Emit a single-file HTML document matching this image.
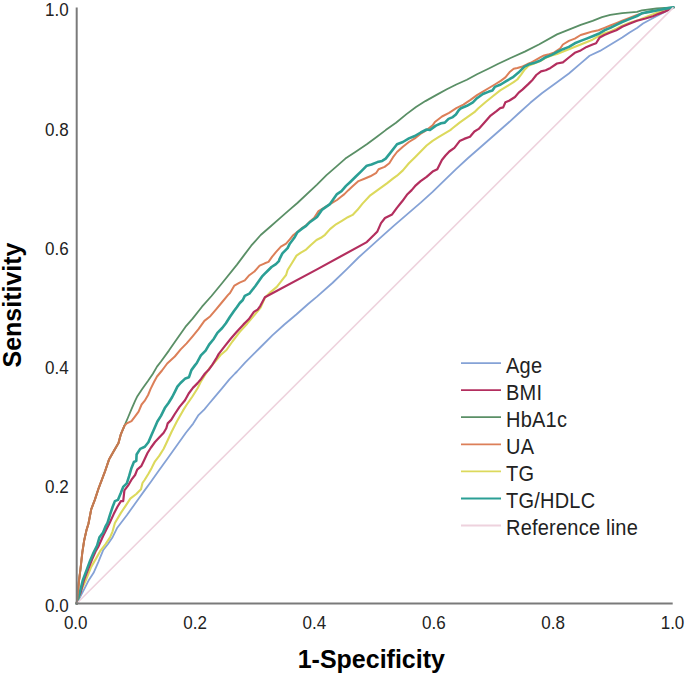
<!DOCTYPE html>
<html><head><meta charset="utf-8"><style>
html,body{margin:0;padding:0;background:#fff;}
body{width:685px;height:675px;overflow:hidden;font-family:"Liberation Sans",sans-serif;}
svg{display:block;}
</style></head><body>
<svg width="685" height="675" viewBox="0 0 685 675">
<rect width="685" height="675" fill="#fff"/>
<g>
<path d="M76.7,603.5 L84.1,589.4 L88.9,579.9 L93.6,572.8 L98.3,562.1 L103.1,550.3 L107.8,544.3 L112.6,537.2 L117.3,527.7 L120.9,523 L126.8,515.3 L132.7,507 L138.6,498.7 L144.6,490.4 L150.4,482.5 L158,471.8 L168.1,457.7 L177,445.2 L185.9,432.8 L193.2,423.6 L198.5,415.1 L204.4,409.3 L208,405 L214.6,397.2 L222,388.3 L229.4,379.4 L235,373.5 L237,371.5 L245.3,362.4 L254.8,352.9 L260.7,347 L272.6,335.1 L284.4,324.5 L296.3,314.5 L308.1,304 L317,296.6 L332.4,283 L346.6,269.4 L358.5,257.5 L370.3,246.9 L382.2,236.2 L394,225.7 L420.7,202.6 L432.6,191.8 L444.4,180.3 L456.3,168.8 L468.1,158 L477,150.3 L507.8,123.3 L518.5,113.5 L530.3,102.8 L542.2,93 L557,82.3 L568.9,73.5 L580.7,63.4 L589.6,55.8 L600,50.9 L607.4,46.5 L614.8,42 L622.2,37.6 L629.6,32.4 L637,28 L643,23.5 L655,17 L673.5,7.4" fill="none" stroke="#85a2d6" stroke-width="1.8" stroke-linejoin="round" stroke-linecap="round"/>
<path d="M76.7,603.5 L81.7,589.4 L86.5,578.7 L91.2,566.9 L96,558.6 L100.7,550.3 L105.4,544.3 L110.2,537.2 L112.6,531.3 L114.9,523 L120.9,512.9 L125.6,505.8 L130.3,498.7 L136.3,494 L141,489.2 L142.5,483 L144.6,480 L148.3,474 L151.7,467.9 L155,461.3 L159.2,455.9 L163.7,448.8 L167,441.8 L171.5,432 L177.1,421.1 L183.1,410.4 L186.5,405 L192.4,396.5 L197.6,388.3 L201.3,380.9 L205,375 L209.4,368.3 L214.6,362.4 L220.6,355 L226.5,350 L232.4,341.5 L239.8,331.9 L247.2,323.7 L254.6,314.8 L260.6,307.5 L264.9,297.8 L270.6,292.1 L276.8,286.9 L280.9,281.7 L284,277.6 L286.1,275 L287.6,270 L292,263 L296.5,255.6 L300.9,252.6 L306.1,249.6 L310.6,245.2 L316.5,240 L320.9,237.8 L325,234.8 L330,229.1 L336,224.3 L341.9,220.8 L347.8,217.2 L352.6,214.9 L357.3,210.1 L362.5,203.6 L370.3,195.3 L378.6,189.4 L386.9,183.4 L392.9,178.7 L397,175.7 L402.9,170.4 L408.9,163.3 L414.8,157.4 L420.7,151.4 L426.6,145.5 L432.6,140.8 L438.5,137.2 L444.4,133.7 L450.3,130.1 L452.2,128.5 L459.6,122.6 L467,117.4 L474.4,112.2 L478.1,108.5 L485.4,102.2 L492.8,96.3 L500.2,90.4 L507.6,85.9 L513.6,82.2 L517.3,79.5 L521.1,74.6 L524.8,69.4 L528.5,65.7 L532.2,64.3 L539.8,61.3 L545.7,57.8 L551.7,55.5 L557,54 L568.9,49.2 L580.7,44.5 L592.6,39.7 L598.5,36.2 L604.4,33.3 L610.3,31.5 L616.3,28.7 L622.2,25.7 L629.6,22.8 L637,20.6 L644.4,17.6 L655,13.5 L673.5,7.4" fill="none" stroke="#dcd95c" stroke-width="2.1" stroke-linejoin="round" stroke-linecap="round"/>
<path d="M76.7,603.5 L78.5,597 L80.5,593 L84,580 L88,569.5 L92,559.5 L95.5,551.5 L98.3,546.7 L103.1,536 L109.6,523 L113.7,514.1 L117.3,507 L120.9,501.1 L123.2,501.1 L124.4,490.4 L128,485.7 L131.5,479.7 L135.1,475 L137.2,469.6 L141.2,466.2 L144,460.5 L147.5,453 L151,447.5 L155,442 L159.2,437.5 L163.7,432.8 L166.3,428.3 L167.7,423.4 L171.2,419.9 L174.8,414 L179.5,406.9 L185,400.2 L188.7,393.5 L193.1,387.6 L197.6,383.1 L201.3,378.7 L205,373.5 L208.7,369.8 L212.4,364.6 L216.1,358.7 L218.6,354.1 L225,345.9 L230.9,338.5 L236.1,332.6 L243.5,324.4 L248.7,319.3 L253.9,311.9 L257.6,309.6 L260.2,306.1 L264.9,297.3 L317,269.4 L366.8,242.1 L369.1,239.7 L373.9,235 L377.4,231.4 L381,223.1 L385,218 L392.1,214.4 L396.9,207.9 L402.2,201.3 L406.9,194.8 L411.7,190.1 L415.8,185.3 L420.6,181.2 L426.6,176.8 L432.6,171.6 L437.3,169.2 L441.9,160 L445.5,155.5 L449.3,151.5 L454.4,147.8 L459.6,141.1 L464.1,138.9 L470,136.7 L474.4,131.5 L478.7,128.9 L484.7,122.2 L490.6,115.6 L496.5,111.1 L500.2,108.1 L503.2,107.4 L505.4,102.2 L509.1,100.7 L515,97 L518.7,92.6 L522.4,89.6 L528,84.4 L532.7,79.7 L536.3,75 L541,71.4 L545.7,70.3 L550.5,67.9 L557,63.5 L562.9,62.3 L568.9,57.5 L574.8,52.8 L580.7,50.4 L586.6,46.9 L592.6,44.5 L596.1,43.3 L599.7,37.4 L604.4,35 L610.3,32.6 L616.3,30.3 L622.2,26.7 L628.1,24.3 L637,20.8 L645.5,18.5 L652.9,16.3 L658.1,14.1 L664,11.9 L673.5,7.4" fill="none" stroke="#b32e5e" stroke-width="2.2" stroke-linejoin="round" stroke-linecap="round"/>
<path d="M76.7,603.5 L77.3,598.9 L78.8,582.3 L80.6,568 L82.3,552.6 L84.1,540.8 L86.5,530.1 L88.5,523.5 L91.2,509.4 L94.8,499.9 L98.3,489.2 L101.9,479.7 L105.4,470.3 L109,459.6 L113.7,451.3 L118.5,443 L120.9,434.1 L124.4,425.8 L128,417.5 L131.5,409.2 L135.1,400.9 L137.4,396.2 L142.2,389.1 L148.1,380.8 L152.9,373.7 L157,366.6 L161,361.5 L168.9,350.6 L177.1,338.7 L185.4,326.9 L192.6,318.6 L202,306.7 L211.5,296 L222.2,283 L237,264.6 L244.1,255.1 L251.2,245.7 L260.7,235 L270.2,226.7 L279.7,218.4 L289.1,210.1 L297.4,203 L317,184.6 L326.5,175.1 L336,166.9 L345.4,158.6 L356.1,151.4 L366.8,144.3 L376.3,137.2 L385.7,130.1 L396,122.8 L406.5,114.1 L416,107 L425.4,101.1 L436.1,95.1 L446.8,89.2 L456.3,84.5 L466.9,79.7 L477,74.2 L488.9,68.5 L497.8,64 L510,58.2 L524.8,51.6 L538.9,44.5 L557,34.4 L568.9,29.7 L580.7,24.9 L592.6,20.8 L602,17.2 L610.3,14.9 L622.2,13.1 L637,11.9 L641.8,10.4 L656.6,8.5 L673.5,7.4" fill="none" stroke="#5a8f66" stroke-width="1.8" stroke-linejoin="round" stroke-linecap="round"/>
<path d="M76.7,603.5 L77.3,598.9 L78.8,582.3 L80.6,568 L82.3,552.6 L84.1,540.8 L86.5,530.1 L88.5,523.5 L91.2,509.4 L94.8,499.9 L98.3,489.2 L101.9,479.7 L105.4,470.3 L109,459.6 L113.7,451.3 L118.5,443 L120.9,434.1 L124.4,425.8 L126.8,423.4 L131.5,421.1 L135.1,416.3 L138.6,411.6 L141.6,404.5 L144.6,400.9 L148.1,395 L150.5,389.1 L154,382 L157,376.5 L162,370.5 L167.2,363.5 L174.8,356.5 L180.7,349.4 L186.6,343.4 L192.6,336.3 L198.5,329.2 L204.4,320.9 L210.3,316.2 L216.3,309.1 L222.2,302 L228.1,294.9 L230,293 L234.4,285.6 L239.6,282.6 L244.8,280.4 L249.3,275.2 L254.4,271.5 L259.6,265.6 L264.8,263.3 L268.5,261.9 L272.2,256.7 L275.9,252.2 L280.9,246.7 L286.1,243.7 L289.8,239.3 L292.8,235.6 L297.2,232 L301.7,228.3 L306.1,225.3 L309.8,221.6 L314,218 L318.5,211.1 L325.9,206.7 L333.3,202.2 L337,200 L340.7,197 L344.4,194.1 L348.1,190.4 L352.6,186.3 L358.5,181.1 L364.4,178.7 L370.3,176.3 L376.3,172.8 L378.6,169.2 L384.6,166.9 L389.3,163.3 L392.9,157.4 L397,152 L402.9,146.7 L408.9,142 L414.8,138.4 L420.7,133.7 L426.6,130.1 L432.6,125.4 L434.9,122 L442,116.5 L449.1,112.9 L456.3,108.2 L463.4,104.6 L470.5,99.9 L477,95.1 L482.9,91.6 L488.9,88 L494.8,84.5 L500.7,80.9 L505.4,77.4 L510,71.7 L513.7,68.7 L517.4,68 L522.6,66.5 L527,64.3 L530.7,62.8 L535.9,59.8 L541.1,56.9 L544.1,55.4 L548,54.6 L554.4,52.4 L560,48.7 L562.9,44.5 L568.9,40.9 L574.8,38.6 L580.7,35 L586.6,33.2 L592.6,31.4 L598.5,30.3 L604.4,27.9 L610.3,25.5 L616.3,23.1 L622.2,20.8 L628.1,18.4 L637,14.9 L650,11.5 L673.5,7.4" fill="none" stroke="#dc7f58" stroke-width="2.0" stroke-linejoin="round" stroke-linecap="round"/>
<path d="M76.7,603.5 L79.4,594.1 L82.9,579.9 L86.5,570.4 L90,560.9 L93.6,552.6 L97.1,545.5 L99.5,537.2 L103.1,532.5 L105.4,526.6 L107.5,523 L110.2,514.1 L112.6,507 L114.9,501.1 L117.9,499.9 L120.9,492.8 L123.2,486.9 L126.8,483.3 L129.1,476.2 L131.5,467.9 L133.9,462 L136.3,460.8 L136.6,454.5 L140.2,448.9 L144.8,446.8 L148.4,442.3 L151.5,435 L153.7,430 L157.4,421.5 L161.1,415.6 L164.8,408.1 L168.5,403 L172.2,397 L175.2,391.1 L177.4,386.7 L180.5,383 L185.4,378.4 L189,377.2 L191.4,370.1 L194.9,365.4 L196.8,363 L200.9,355.3 L205.6,350.6 L209.1,344.6 L213.9,338.7 L217.4,332.8 L222.2,328 L225.9,323.2 L230,316.8 L234,311 L237,307 L239.8,303 L242.8,300 L244.8,295.9 L249.3,293.7 L252.2,290 L255.2,286.3 L258.9,281.1 L261.9,276.7 L264.8,273.7 L268.5,270 L271.5,267 L275.9,264.1 L278.9,261.1 L279.4,259.3 L282.4,253.3 L287.6,248.1 L289.8,243.7 L294.3,237.8 L297.2,232.6 L301.7,228.9 L306.1,225.9 L309.8,222.2 L315,218.5 L317,217 L322.2,209.6 L329.6,204.4 L333.3,199.3 L337,194.1 L341.5,191.1 L346,185.9 L350,182.2 L351.8,180.5 L356.1,176.3 L360.9,171.6 L366.8,165.7 L371.5,164.5 L377.4,162.1 L382.2,160.9 L385.7,158.6 L390.5,152.6 L397,144.3 L402.9,142 L408.9,138.4 L414.8,136 L420.7,132.5 L426.6,129.5 L430,130 L435.9,125.6 L441.1,123.3 L444.8,122.6 L448.5,118.9 L452.2,117.4 L455.9,114.4 L458.9,110 L461,108.2 L466.9,105.8 L472.9,102.3 L477,98.2 L482.9,94 L488.9,91.6 L492.4,90.4 L494.8,86.9 L500.7,84.5 L506.6,80.9 L512.6,77.4 L518.5,72.6 L524.4,66.7 L529.1,64.3 L533.9,63.1 L539.8,60.8 L545.7,57.2 L551.7,54.9 L557,52 L562.9,49.2 L568.9,46.9 L574.8,43.3 L580.7,40.9 L586.6,38.6 L592.6,36.2 L598.5,33.8 L604.4,30.3 L610.3,27.9 L616.3,24.9 L622.2,22 L628.1,19.6 L637,16 L641.8,13.3 L649.2,11.9 L656.6,10.4 L664,8.9 L673.5,7.4" fill="none" stroke="#2b9f95" stroke-width="2.6" stroke-linejoin="round" stroke-linecap="round"/>
<path d="M76.7,603.5 L77.3,598.9 L78.8,582.3 L80.6,568 L82.3,552.6 L84.1,540.8 L86.5,530.1 L88.5,523.5 L91.2,509.4 L94.8,499.9 L98.3,489.2 L101.9,479.7 L105.4,470.3 L109,459.6 L113.7,451.3 L118.5,443 L120.9,434.1 L124.4,425.8" fill="none" stroke="#c47a50" stroke-width="2.0" stroke-linejoin="round" stroke-linecap="round"/>
<line x1="76.7" y1="603.5" x2="673.5" y2="7.4" stroke="#eed2dd" stroke-width="1.6"/>
<line x1="76.7" y1="7.4" x2="76.7" y2="604.5" stroke="#7a7a7a" stroke-width="2"/>
<line x1="75.7" y1="603.5" x2="672.7" y2="603.5" stroke="#7a7a7a" stroke-width="2"/>
<text transform="translate(68.6,612.40) scale(1,1.08)" font-family="Liberation Sans, sans-serif" font-size="17" text-anchor="end" fill="#222">0.0</text>
<text transform="translate(68.6,493.18) scale(1,1.08)" font-family="Liberation Sans, sans-serif" font-size="17" text-anchor="end" fill="#222">0.2</text>
<text transform="translate(68.6,373.96) scale(1,1.08)" font-family="Liberation Sans, sans-serif" font-size="17" text-anchor="end" fill="#222">0.4</text>
<text transform="translate(68.6,254.74) scale(1,1.08)" font-family="Liberation Sans, sans-serif" font-size="17" text-anchor="end" fill="#222">0.6</text>
<text transform="translate(68.6,135.52) scale(1,1.08)" font-family="Liberation Sans, sans-serif" font-size="17" text-anchor="end" fill="#222">0.8</text>
<text transform="translate(68.6,16.30) scale(1,1.08)" font-family="Liberation Sans, sans-serif" font-size="17" text-anchor="end" fill="#222">1.0</text>
<text transform="translate(75.7,628.50) scale(1,1.08)" font-family="Liberation Sans, sans-serif" font-size="17" text-anchor="middle" fill="#222">0.0</text>
<text transform="translate(195.1,628.50) scale(1,1.08)" font-family="Liberation Sans, sans-serif" font-size="17" text-anchor="middle" fill="#222">0.2</text>
<text transform="translate(314.4,628.50) scale(1,1.08)" font-family="Liberation Sans, sans-serif" font-size="17" text-anchor="middle" fill="#222">0.4</text>
<text transform="translate(433.8,628.50) scale(1,1.08)" font-family="Liberation Sans, sans-serif" font-size="17" text-anchor="middle" fill="#222">0.6</text>
<text transform="translate(553.1,628.50) scale(1,1.08)" font-family="Liberation Sans, sans-serif" font-size="17" text-anchor="middle" fill="#222">0.8</text>
<text transform="translate(672.5,628.50) scale(1,1.08)" font-family="Liberation Sans, sans-serif" font-size="17" text-anchor="middle" fill="#222">1.0</text>
<text transform="translate(371.3,667.5) scale(1,1.02)" font-family="Liberation Sans, sans-serif" font-size="25" font-weight="bold" text-anchor="middle" fill="#000">1-Specificity</text>
<text transform="translate(21.3,305) rotate(-90)" font-family="Liberation Sans, sans-serif" font-size="25" font-weight="bold" text-anchor="middle" fill="#000">Sensitivity</text>
<line x1="461" y1="363.1" x2="501" y2="363.1" stroke="#85a2d6" stroke-width="1.8"/>
<text transform="translate(506,372.70) scale(1,1.1)" font-family="Liberation Sans, sans-serif" font-size="20" letter-spacing="0.22" fill="#222">Age</text>
<line x1="461" y1="390.2" x2="501" y2="390.2" stroke="#b32e5e" stroke-width="1.8"/>
<text transform="translate(506,399.77) scale(1,1.1)" font-family="Liberation Sans, sans-serif" font-size="20" letter-spacing="0.22" fill="#222">BMI</text>
<line x1="461" y1="417.2" x2="501" y2="417.2" stroke="#5a8f66" stroke-width="1.8"/>
<text transform="translate(506,426.84) scale(1,1.1)" font-family="Liberation Sans, sans-serif" font-size="20" letter-spacing="0.22" fill="#222">HbA1c</text>
<line x1="461" y1="444.3" x2="501" y2="444.3" stroke="#dc7f58" stroke-width="1.8"/>
<text transform="translate(506,453.91) scale(1,1.1)" font-family="Liberation Sans, sans-serif" font-size="20" letter-spacing="0.22" fill="#222">UA</text>
<line x1="461" y1="471.4" x2="501" y2="471.4" stroke="#dcd95c" stroke-width="1.8"/>
<text transform="translate(506,480.98) scale(1,1.1)" font-family="Liberation Sans, sans-serif" font-size="20" letter-spacing="0.22" fill="#222">TG</text>
<line x1="461" y1="498.5" x2="501" y2="498.5" stroke="#2b9f95" stroke-width="1.8"/>
<text transform="translate(506,508.05) scale(1,1.1)" font-family="Liberation Sans, sans-serif" font-size="20" letter-spacing="0.22" fill="#222">TG/HDLC</text>
<line x1="461" y1="525.5" x2="501" y2="525.5" stroke="#eed2dd" stroke-width="1.8"/>
<text transform="translate(506,535.12) scale(1,1.1)" font-family="Liberation Sans, sans-serif" font-size="20" letter-spacing="0.22" fill="#222">Reference line</text>
</g>
</svg>
</body></html>
